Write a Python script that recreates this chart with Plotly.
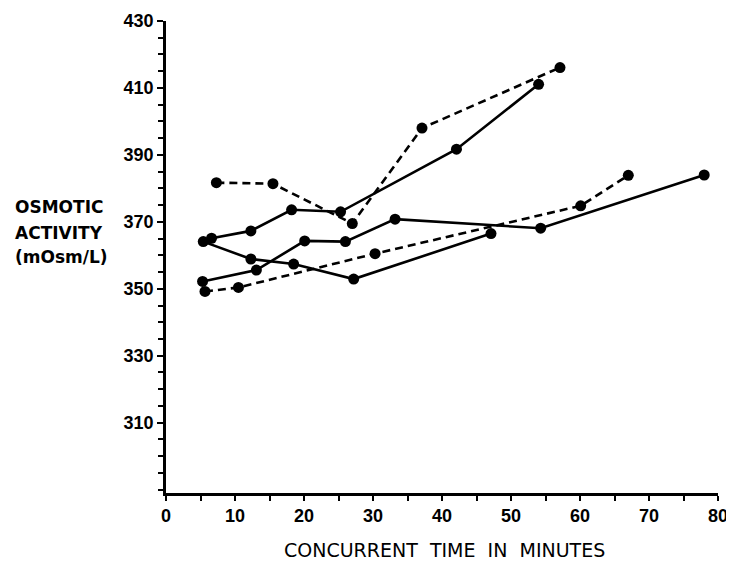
import plotly.graph_objects as go

# Data (time in minutes, osmotic activity mOsm/L)
s1_x = [7.3, 15.5, 27.0, 37.1, 57.1]          # dashed
s1_y = [381.7, 381.4, 369.5, 398.0, 416.1]

s2_x = [6.6, 12.3, 18.2, 25.3, 42.1, 54.0]    # solid
s2_y = [365.1, 367.3, 373.6, 373.0, 391.7, 411.1]

s3_x = [5.4, 12.3, 18.5, 27.2, 47.1]          # solid
s3_y = [364.1, 358.9, 357.4, 352.9, 366.5]

s4_x = [5.3, 13.1, 20.1, 26.0, 33.2, 54.3, 78.0]  # solid
s4_y = [352.2, 355.6, 364.3, 364.1, 370.8, 368.1, 384.0]

s5_x = [5.65, 10.5, 30.3, 60.1, 67.0]         # dashed
s5_y = [349.2, 350.4, 360.5, 374.8, 383.9]

x_ticks = [0, 10, 20, 30, 40, 50, 60, 70, 80]
y_ticks = [310, 330, 350, 370, 390, 410, 430]

series = [
    (s1_x, s1_y, "8px,5px"),
    (s2_x, s2_y, "solid"),
    (s3_x, s3_y, "solid"),
    (s4_x, s4_y, "solid"),
    (s5_x, s5_y, "8px,5px"),
]

fig = go.Figure()
for xs, ys, dash in series:
    fig.add_trace(go.Scatter(
        x=xs, y=ys, mode="lines+markers",
        line=dict(color="black", width=2.6, dash=dash),
        marker=dict(color="black", size=11),
        showlegend=False,
    ))

font_main = "Liberation Sans, Arial, sans-serif"
font_title = "DejaVu Sans, sans-serif"

fig.update_layout(
    width=734, height=568,
    paper_bgcolor="white", plot_bgcolor="white",
    margin=dict(l=158, r=24, t=13, b=83),
    font=dict(family=font_main, color="black"),
    xaxis=dict(
        range=[0, 80], tickvals=x_ticks, ticktext=[str(v) for v in x_ticks],
        showline=True, linecolor="black", linewidth=2.5, automargin=False,
        ticks="outside", ticklen=5, tickwidth=2, tickcolor="black",
        minor=dict(dtick=5, tick0=0, ticks="outside", ticklen=5, tickwidth=2, tickcolor="black"),
        showgrid=False, zeroline=False,
        tickfont=dict(size=18, family=font_main, color="black", weight="bold"),
    ),
    yaxis=dict(
        range=[289, 430], tickvals=y_ticks, ticktext=[str(v) for v in y_ticks],
        showline=True, linecolor="black", linewidth=2.5, automargin=False,
        ticks="outside", ticklen=6, tickwidth=2, tickcolor="black",
        minor=dict(dtick=5, tick0=290, ticks="outside", ticklen=5, tickwidth=2, tickcolor="black"),
        showgrid=False, zeroline=False,
        tickfont=dict(size=18, family=font_main, color="black", weight="bold"),
    ),
)

for txt, yp in [("OSMOTIC", 0.606), ("ACTIVITY", 0.551), ("(mOsm/L)", 0.500)]:
    fig.add_annotation(
        text=txt, xref="paper", yref="paper", x=-0.277, y=yp,
        xanchor="left", yanchor="middle", align="left",
        showarrow=False, font=dict(size=17, family=font_title, color="black", weight="bold"),
    )
fig.add_annotation(
    text="CONCURRENT  TIME  IN  MINUTES",
    xref="paper", yref="paper", x=0.504, y=-0.121,
    xanchor="center", yanchor="middle",
    showarrow=False, font=dict(size=19, family=font_title, color="black"),
)

fig.write_html("out.html")
